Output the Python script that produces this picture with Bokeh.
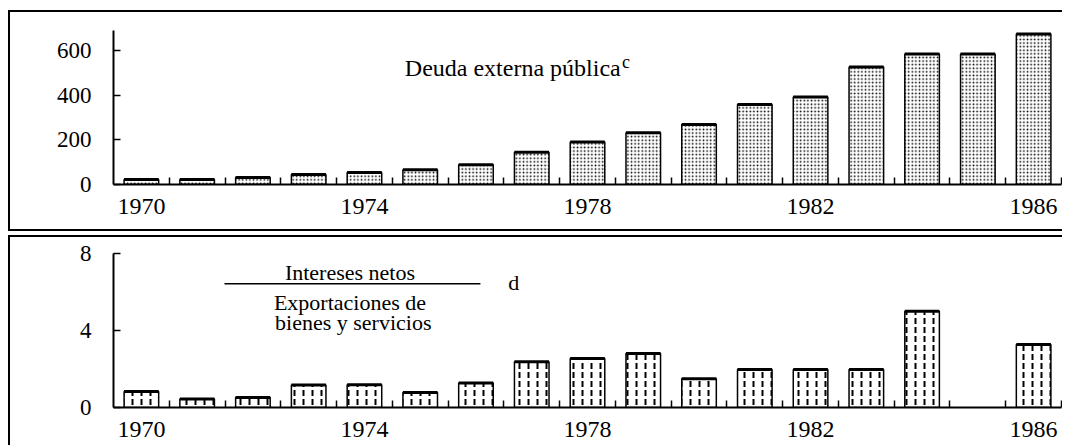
from bokeh.plotting import figure
from bokeh.models import FixedTicker, Range1d, Label, ColumnDataSource
from bokeh.layouts import column
from bokeh.embed import file_html
from bokeh.resources import INLINE

# ---------------- data ----------------
years = list(range(1970, 1987))
deuda_externa = [22, 22, 31, 45, 54, 66, 88, 144, 190, 232, 269, 358, 392, 526, 585, 585, 674]
intereses_exportaciones = [0.83, 0.44, 0.52, 1.17, 1.18, 0.78, 1.27, 2.38, 2.55, 2.80,
                           1.49, 1.98, 1.98, 1.98, 5.00, None, 3.27]
x_label_years = [1970, 1974, 1978, 1982, 1986]
top_y_ticks = [0, 200, 400, 600]
bottom_y_ticks = [0, 4, 8]

FONT = "Liberation Serif"
BAR_W = 0.62
X0, X1 = 1969.5, 1986.5


def base_figure(height, ymax, yticks, mb_top, mb_bottom, styles):
    p = figure(width=1054, height=height,
               x_range=Range1d(X0, X1), y_range=Range1d(0, ymax),
               output_backend="svg", toolbar_location=None,
               min_border_left=103, min_border_right=3,
               min_border_top=mb_top, min_border_bottom=mb_bottom)
    p.styles = styles
    p.xgrid.visible = False
    p.ygrid.visible = False
    p.outline_line_color = None
    p.background_fill_color = "white"
    p.border_fill_color = "white"

    xa = p.xaxis[0]
    xa.ticker = FixedTicker(ticks=x_label_years,
                            minor_ticks=[y + 0.5 for y in years])
    xa.major_tick_line_color = None
    xa.minor_tick_in = 7
    xa.minor_tick_out = 0
    xa.minor_tick_line_color = "black"
    xa.minor_tick_line_width = 1.5
    xa.axis_line_width = 2
    xa.axis_line_color = "black"
    xa.major_label_text_font = FONT
    xa.major_label_text_font_size = "24px"
    xa.major_label_text_color = "black"
    xa.major_label_standoff = 8

    ya = p.yaxis[0]
    ya.ticker = FixedTicker(ticks=yticks, minor_ticks=[])
    ya.major_tick_in = 7
    ya.major_tick_out = 0
    ya.major_tick_line_width = 1.5
    ya.major_tick_line_color = "black"
    ya.axis_line_width = 2
    ya.axis_line_color = "black"
    ya.major_label_text_font = FONT
    ya.major_label_text_font_size = "23px"
    ya.major_label_text_color = "black"
    ya.major_label_standoff = 22
    return p


def add_bars(p, xs, tops, pattern, scale, weight):
    src = ColumnDataSource(dict(x=xs, top=tops,
                                x0=[x - BAR_W / 2 for x in xs],
                                x1=[x + BAR_W / 2 for x in xs]))
    p.vbar(x="x", top="top", bottom=0, width=BAR_W, source=src,
           fill_color="white", line_color="black", line_width=1.5,
           hatch_pattern=pattern, hatch_color="black",
           hatch_scale=scale, hatch_weight=weight)
    p.segment(x0="x0", x1="x1", y0="top", y1="top", source=src,
              line_color="black", line_width=3)


def label(p, x, y, text, size, align="center"):
    p.add_layout(Label(x=x, y=y, text=text, text_font=FONT,
                       text_font_size=size, text_align=align,
                       text_baseline="middle", text_color="black"))


# ---------------- top panel ----------------
top = base_figure(221, 690, top_y_ticks, 18, 49,
                  {"border-top": "2px solid black", "border-left": "2px solid black",
                   "border-bottom": "2px solid black",
                   "margin-left": "8px", "margin-top": "10px"})
add_bars(top, years, deuda_externa, "dot", 3.6, 2.4)

label(top, 1976.66, 520, "Deuda externa pública", "24px")
label(top, 1978.62, 551, "c", "18px", "left")

# ---------------- bottom panel ----------------
bx = [y for y, v in zip(years, intereses_exportaciones) if v is not None]
bv = [v for v in intereses_exportaciones if v is not None]
bottom = base_figure(210, 8, bottom_y_ticks, 16, 40,
                     {"border-top": "2px solid black", "border-left": "2px solid black",
                      "margin-left": "8px", "margin-top": "4px"})
add_bars(bottom, bx, bv, "vertical_dash", 9, 2)

label(bottom, 1973.74, 7.01, "Intereses netos", "22px")
bottom.segment(x0=[1971.49], x1=[1976.08], y0=[6.43], y1=[6.43],
               line_color="black", line_width=1.5)
label(bottom, 1976.58, 6.49, "d", "22px", "left")
label(bottom, 1973.74, 5.45, "Exportaciones de", "22px")
label(bottom, 1973.80, 4.42, "bienes y servicios", "22px")

layout = column(top, bottom, spacing=0)
open("out.html", "w").write(file_html(layout, INLINE))
